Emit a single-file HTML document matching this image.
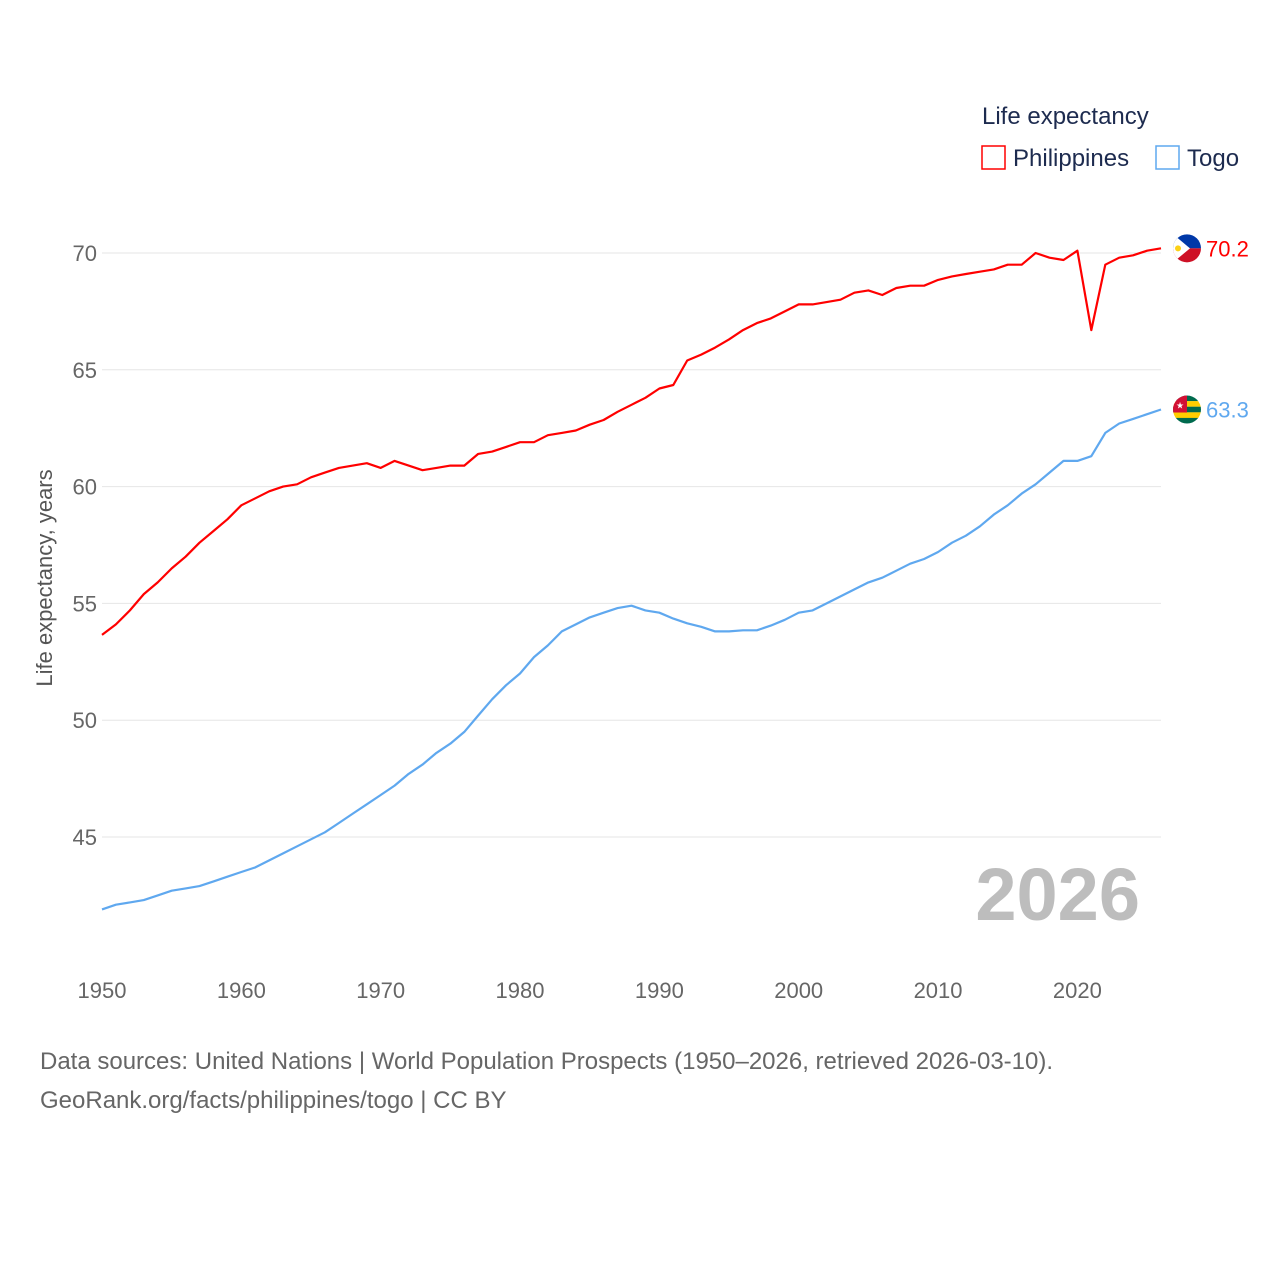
<!DOCTYPE html>
<html><head><meta charset="utf-8"><style>
body{margin:0;background:#fff;}
svg text{font-family:"Liberation Sans",sans-serif;}
</style></head><body>
<svg width="1280" height="1280" viewBox="0 0 1280 1280" xmlns="http://www.w3.org/2000/svg">
<g id="grid"></g>
<g id="yticks"></g>
<g id="xticks"></g>
<text x="52" y="578" transform="rotate(-90 52 578)" text-anchor="middle" font-size="22" fill="#555">Life expectancy, years</text>
<text x="1140" y="920" text-anchor="end" font-size="74" font-weight="bold" fill="#bdbdbd">2026</text>
<g id="series"></g>
<g>
<text x="982" y="124" font-size="24" fill="#1d2b4f">Life expectancy</text>
<g><rect x="982" y="146" width="23" height="23" fill="none" stroke="#ff0000" stroke-width="1.5"/><text x="1013" y="166" font-size="24" fill="#1d2b4f">Philippines</text></g>
<g><rect x="1156" y="146" width="23" height="23" fill="none" stroke="#5fa8ef" stroke-width="1.5"/><text x="1187" y="166" font-size="24" fill="#1d2b4f">Togo</text></g>
</g>
<text x="40" y="1069" font-size="24" fill="#666">Data sources: United Nations | World Population Prospects (1950–2026, retrieved 2026-03-10).</text>
<text x="40" y="1108" font-size="24" fill="#666">GeoRank.org/facts/philippines/togo | CC BY</text>
</svg>
<script>
const years = [];
for (let y = 1950; y <= 2026; y++) years.push(y);
const philippines = [53.65,54.1,54.7,55.4,55.9,56.5,57.0,57.6,58.1,58.6,59.2,59.5,59.8,60.0,60.1,60.4,60.6,60.8,60.9,61.0,60.8,61.1,60.9,60.7,60.8,60.9,60.9,61.4,61.5,61.7,61.9,61.9,62.2,62.3,62.4,62.65,62.85,63.2,63.5,63.8,64.2,64.35,65.4,65.65,65.95,66.3,66.7,67.0,67.2,67.5,67.8,67.8,67.9,68.0,68.3,68.4,68.2,68.5,68.6,68.6,68.85,69.0,69.1,69.2,69.3,69.5,69.5,70.0,69.8,69.7,70.1,66.7,69.5,69.8,69.9,70.1,70.2];
const togo = [41.9,42.1,42.2,42.3,42.5,42.7,42.8,42.9,43.1,43.3,43.5,43.7,44.0,44.3,44.6,44.9,45.2,45.6,46.0,46.4,46.8,47.2,47.7,48.1,48.6,49.0,49.5,50.2,50.9,51.5,52.0,52.7,53.2,53.8,54.1,54.4,54.6,54.8,54.9,54.7,54.6,54.35,54.15,54.0,53.8,53.8,53.85,53.85,54.05,54.3,54.6,54.7,55.0,55.3,55.6,55.9,56.1,56.4,56.7,56.9,57.2,57.6,57.9,58.3,58.8,59.2,59.7,60.1,60.6,61.1,61.1,61.3,62.3,62.7,62.9,63.1,63.3];
const yTicks = [45,50,55,60,65,70];
const xTicks = [1950,1960,1970,1980,1990,2000,2010,2020];
const NS = "http://www.w3.org/2000/svg";
const X = y => 102 + (y - 1950) * (1161 - 102) / 76;
const Y = v => 253 + (70 - v) * 23.36;
function mk(tag, attrs, parent) { const e = document.createElementNS(NS, tag); for (const k in attrs) e.setAttribute(k, attrs[k]); parent.appendChild(e); return e; }
const grid = document.getElementById('grid'), yt = document.getElementById('yticks'), xt = document.getElementById('xticks'), ser = document.getElementById('series');
yTicks.forEach(v => {
  const l = mk('line', {x1:102, x2:1161, y1:Y(v), y2:Y(v), stroke:'#e6e6e6', 'stroke-width':1}, grid);
  
  
  const t = mk('text', {x:97, y:Y(v)+8, 'text-anchor':'end', 'font-size':22, fill:'#666'}, yt);
  t.textContent = v;
  
  
});
xTicks.forEach(v => {
  const t = mk('text', {x:X(v), y:998, 'text-anchor':'middle', 'font-size':22, fill:'#666'}, xt);
  t.textContent = v;
  
  
});
function line(data, color, name) {
  const d = data.map((v, i) => (i ? 'L' : 'M') + X(years[i]).toFixed(1) + ' ' + Y(v).toFixed(1)).join(' ');
  const p = mk('path', {d, fill:'none', stroke:color, 'stroke-width':2.2, 'stroke-linejoin':'round'}, ser);
  
  
  const last = data[data.length - 1];
  const t = mk('text', {x:1206, y:Y(last)+8, 'font-size':22, fill:color}, ser);
  t.textContent = last.toFixed(1);
  
  
  return Y(last);
}
const py = line(philippines, '#ff0000', 'philippines');
const ty = line(togo, '#5fa8ef', 'togo');
// Philippines flag
const fp = mk('g', {}, ser);


mk('clipPath', {id:'cp1'}, fp).appendChild(Object.assign(document.createElementNS(NS,'circle'),{}));
fp.querySelector('clipPath circle').setAttribute('cx',1187);
fp.querySelector('clipPath circle').setAttribute('cy',py);
fp.querySelector('clipPath circle').setAttribute('r',14);
const g1 = mk('g', {'clip-path':'url(#cp1)'}, fp);
mk('rect', {x:1172, y:py-15, width:30, height:15, fill:'#0038a8'}, g1);
mk('rect', {x:1172, y:py, width:30, height:15, fill:'#ce1126'}, g1);
mk('polygon', {points:`1172,${py-15} 1190,${py} 1172,${py+15}`, fill:'#fff'}, g1);
mk('circle', {cx:1178, cy:py, r:3, fill:'#fcd116'}, g1);
// Togo flag
const ft = mk('g', {}, ser);


const cp2 = mk('clipPath', {id:'cp2'}, ft);
mk('circle', {cx:1187, cy:ty, r:14}, cp2);
const g2 = mk('g', {'clip-path':'url(#cp2)'}, ft);
const cols = ['#006a4e','#ffce00','#006a4e','#ffce00','#006a4e'];
cols.forEach((c, i) => mk('rect', {x:1172, y:ty-14+i*5.6, width:30, height:5.7, fill:c}, g2));
mk('rect', {x:1172, y:ty-14, width:15, height:17, fill:'#d21034'}, g2);
mk('text', {x:1180, y:ty-1, 'font-size':9, fill:'#fff', 'text-anchor':'middle'}, g2).textContent = '★';
</script>
</body></html>
